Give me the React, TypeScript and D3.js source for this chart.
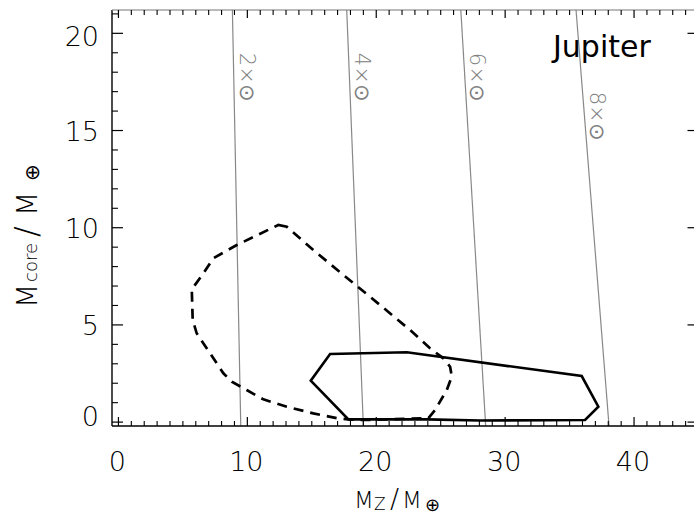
import * as d3 from 'd3'

// dashed contour (Mz, Mcore), clockwise from the top vertex
const dashedZ = [12.4, 13.06, 15.12, 17.45, 19.52, 22.62, 24.17, 25.21, 25.73, 25.86, 25.47, 24.56, 24.04, 19.26, 17.84, 16.94, 15.12, 13.06, 11.24, 9.95, 8.79, 8.14, 7.11, 6.07, 5.76, 5.69, 6.59, 7.36, 9.18]
const dashedCore = [10.14, 10.05, 8.85, 7.57, 6.45, 4.74, 3.8, 3.28, 2.85, 2.34, 1.65, 0.62, 0.2, 0.11, 0.14, 0.2, 0.45, 0.79, 1.17, 1.65, 2.08, 2.51, 3.54, 4.57, 5.25, 6.83, 7.65, 8.43, 9.11]

// solid contour
const solidZ = [16.42, 22.37, 35.94, 37.23, 36.2, 28.05, 23.92, 17.84, 14.92]
const solidCore = [3.5, 3.59, 2.37, 0.79, 0.11, 0.08, 0.14, 0.14, 2.13]

// lines of constant envelope metallicity (x solar)
const envFactors = [2, 4, 6, 8]
const envTopZ = [8.84, 17.71, 26.56, 35.5]
const envBottomZ = [9.49, 19.0, 28.49, 38.06]
const envLabelCore = [19.0, 19.0, 19.0, 17.0]

const xMajor = [0, 10, 20, 30, 40]
const yMajor = [0, 5, 10, 15, 20]
const xDomain: [number, number] = [-0.5, 45]
const yDomain: [number, number] = [-0.2, 21.2]

const W = 694
const H = 520
const FONT = '"DejaVu Sans", sans-serif'

export default function App() {
  const left = 112
  const right = 698.5
  const top = 10
  const bottom = 426

  const x = d3.scaleLinear().domain(xDomain).range([left, right])
  const y = d3.scaleLinear().domain(yDomain).range([bottom, top])

  const xMinor = d3.range(0, 46, 1).filter((v) => !xMajor.includes(v))
  const yMinor = d3.range(0, 22, 1).filter((v) => !yMajor.includes(v))

  const contour = d3
    .line<[number, number]>()
    .x((d) => x(d[0]))
    .y((d) => y(d[1]))
    .curve(d3.curveLinearClosed)

  const dashed = contour(dashedZ.map((z, i) => [z, dashedCore[i]]))
  const solid = contour(solidZ.map((z, i) => [z, solidCore[i]]))

  const envAt = (i: number, c: number) =>
    envBottomZ[i] + ((envTopZ[i] - envBottomZ[i]) * (c - yDomain[0])) / (yDomain[1] - yDomain[0])

  return (
    <svg
      width={W}
      height={H}
      viewBox={`0 0 ${W} ${H}`}
      style={{ position: 'absolute', left: 0, top: 0, background: '#fff' }}
      fontFamily={FONT}
    >
      <defs>
        <clipPath id="plot-clip">
          <rect x={left} y={top} width={right - left} height={bottom - top} />
        </clipPath>
      </defs>

      {/* metallicity lines */}
      <g clipPath="url(#plot-clip)">
        {envFactors.map((f, i) => (
          <line
            key={f}
            x1={x(envTopZ[i])}
            y1={y(yDomain[1])}
            x2={x(envBottomZ[i])}
            y2={y(yDomain[0])}
            stroke="#888"
            strokeWidth={1.2}
          />
        ))}
      </g>
      {envFactors.map((f, i) => {
        const lx = x(envAt(i, envLabelCore[i])) + 7
        const ly = y(envLabelCore[i])
        return (
          <text
            key={f}
            transform={`translate(${lx},${ly}) rotate(90)`}
            fontSize={21}
            fontWeight={200}
            fill="#808080"
          >
            {`${f}×⊙`}
          </text>
        )
      })}

      {/* contours */}
      <g clipPath="url(#plot-clip)">
        <path d={dashed ?? ''} fill="none" stroke="#000" strokeWidth={2.7} strokeDasharray="10,7" />
        <path d={solid ?? ''} fill="none" stroke="#000" strokeWidth={2.6} strokeLinejoin="miter" />
      </g>

      {/* frame */}
      <line x1={left} y1={bottom} x2={right} y2={bottom} stroke="#000" strokeWidth={1.4} />
      <line x1={left} y1={top} x2={left} y2={bottom} stroke="#000" strokeWidth={1.4} />
      <line x1={left} y1={top} x2={right} y2={top} stroke="#777" strokeWidth={1.2} />
      <line x1={right} y1={top} x2={right} y2={bottom} stroke="#000" strokeWidth={1.4} />

      {/* x ticks bottom and top */}
      {xMajor.map((v) => (
        <g key={`xM${v}`}>
          <line x1={x(v)} x2={x(v)} y1={bottom} y2={bottom - 9} stroke="#000" strokeWidth={1.2} />
          <line x1={x(v)} x2={x(v)} y1={top} y2={top + 8} stroke="#000" strokeWidth={1.2} />
          <text x={x(v) - 1} y={471} fontSize={27} fontWeight={200} textAnchor="middle" fill="#000">
            {v}
          </text>
        </g>
      ))}
      {xMinor.map((v) => (
        <g key={`xm${v}`}>
          <line x1={x(v)} x2={x(v)} y1={bottom} y2={bottom - 5} stroke="#000" strokeWidth={1.1} />
          <line x1={x(v)} x2={x(v)} y1={top} y2={top + 5} stroke="#000" strokeWidth={1.1} />
        </g>
      ))}

      {/* y ticks left and right */}
      {yMajor.map((v) => {
        const cy = Math.max(36, Math.min(416, y(v)))
        return (
          <g key={`yM${v}`}>
            <line x1={left} x2={left + 11} y1={y(v)} y2={y(v)} stroke="#000" strokeWidth={1.2} />
            <line x1={right} x2={right - 11} y1={y(v)} y2={y(v)} stroke="#000" strokeWidth={1.2} />
            <text x={99} y={cy + 10} fontSize={27} fontWeight={200} textAnchor="end" fill="#000">
              {v}
            </text>
          </g>
        )
      })}
      {yMinor.map((v) => (
        <line key={`ym${v}`} x1={left} x2={left + 6} y1={y(v)} y2={y(v)} stroke="#000" strokeWidth={1.1} />
      ))}

      {/* axis titles */}
      <text y={508} fontSize={23} fontWeight={200} fill="#000">
        <tspan x={354}>M</tspan>
        <tspan x={374} fontSize={17} dy={2}>Z</tspan>
        <tspan x={390} fontSize={27} dy={-2}>/</tspan>
        <tspan x={402}>M</tspan>
        <tspan x={425} fontSize={18} dy={3}>⊕</tspan>
      </text>
      <text transform="translate(37,307) rotate(-90)" fontSize={28} fontWeight={200} fill="#000">
        <tspan x={-1}>M</tspan>
        <tspan x={25} fontSize={18}>core</tspan>
        <tspan x={70} fontSize={32}>/</tspan>
        <tspan x={91}>M</tspan>
        <tspan x={126} fontSize={20} dy={2}>⊕</tspan>
      </text>

      <text x={553} y={57} fontSize={30} fill="#000">
        Jupiter
      </text>
    </svg>
  )
}
